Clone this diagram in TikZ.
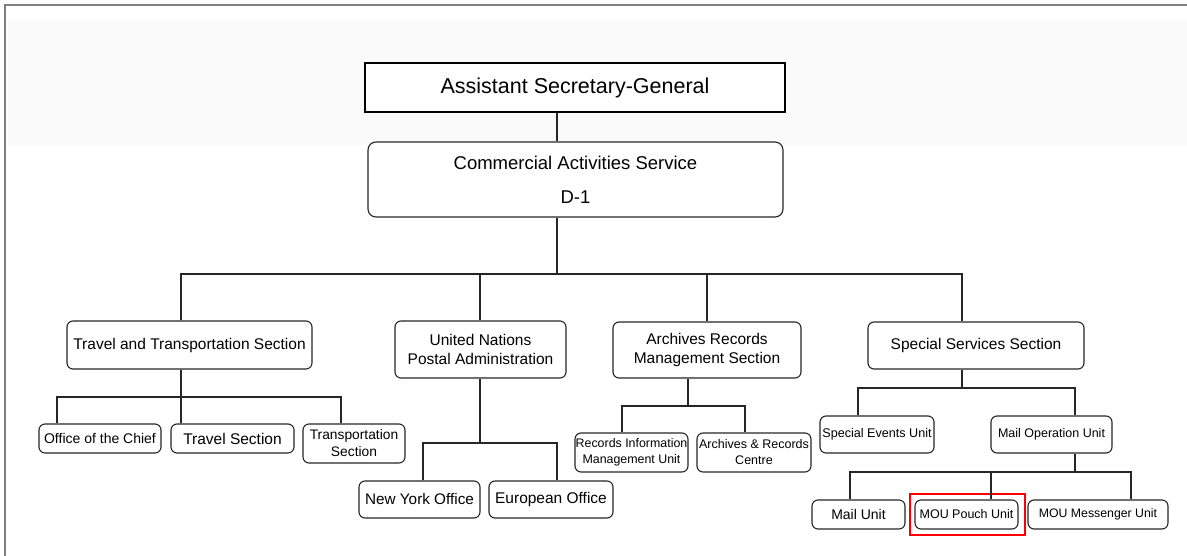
\documentclass[tikz,border=0pt]{standalone}
\usepackage{fontspec}
\setmainfont{Liberation Sans}
\definecolor{frame}{HTML}{7F7F7F}
\definecolor{ink}{HTML}{262626}
\definecolor{bgtint}{HTML}{FAFAFA}
\newcommand{\fs}[2]{\fontsize{#1}{#2}\selectfont}
\tikzset{
  box/.style={draw=ink, line width=1.1pt, rounded corners=6pt, inner sep=0pt, align=center, fill=white},
  topbox/.style={draw=black, line width=1.8pt, inner sep=0pt, align=center, fill=white},
  conn/.style={draw=ink, line width=1.1pt},
  hilite/.style={draw=red, line width=1.6pt, inner sep=0pt}
}
\begin{document}
\begin{tikzpicture}[x=1pt,y=-1pt]
\useasboundingbox (0,0) rectangle (1187,556);
\fill[white] (0,0) rectangle (1187,556);
\fill[bgtint] (8,20) rectangle (1187,145);
\draw[frame, line width=2pt] (5,556) -- (5,5) -- (1187,5);

% top nodes
\node[topbox, minimum width=420pt, minimum height=49pt, font=\fs{21.5}{26}] (asg) at (575,87.5) {Assistant Secretary-General};
\node[box, rounded corners=8pt, minimum width=415pt, minimum height=75pt, font=\fs{18.5}{34}] (cas) at (575.5,179.5) {Commercial Activities Service\\D-1};

% sections
\node[box, minimum width=245pt, minimum height=48pt, font=\fs{15.5}{19}] (tts) at (189.5,345) {Travel and Transportation Section};
\node[box, minimum width=171pt, minimum height=57pt, font=\fs{15.5}{19}] (unpa) at (480.5,349.5) {United Nations\\Postal Administration};
\node[box, minimum width=188pt, minimum height=56pt, font=\fs{15.5}{19}] (arms) at (707,350) {Archives Records\\Management Section};
\node[box, minimum width=216pt, minimum height=47pt, font=\fs{15.5}{19}] (sss) at (976,345.5) {Special Services Section};

% travel sub-units
\node[box, minimum width=122pt, minimum height=29pt, font=\fs{14}{17}] (ooc) at (100,438.5) {Office of the Chief};
\node[box, minimum width=123pt, minimum height=29pt, font=\fs{15.5}{19}] (ts) at (232.5,438.5) {Travel Section};
\node[box, minimum width=102pt, minimum height=39pt, font=\fs{13.8}{17}] (trs) at (354,443.5) {Transportation\\Section};

% postal
\node[box, minimum width=121pt, minimum height=37pt, font=\fs{15.3}{19}] (nyo) at (419.5,499.5) {New York Office};
\node[box, minimum width=124pt, minimum height=37pt, font=\fs{15.5}{19}] (eo) at (551,499.5) {European Office};

% archives
\node[box, minimum width=113pt, minimum height=39pt, font=\fs{12.4}{16}] (rimu) at (631.5,452.5) {Records Information\\Management Unit};
\node[box, minimum width=114pt, minimum height=39pt, font=\fs{12.5}{16}] (arc) at (754,452.5) {Archives \& Records\\Centre};

% special services
\node[box, minimum width=114pt, minimum height=37pt, font=\fs{12.6}{16}] (seu) at (877,434.5) {Special Events Unit};
\node[box, minimum width=121pt, minimum height=37pt, font=\fs{12.5}{16}] (mou) at (1051.5,434.5) {Mail Operation Unit};
\node[box, minimum width=93pt, minimum height=29pt, font=\fs{14}{17}] (mu) at (858.5,514.5) {Mail Unit};
\node[box, minimum width=103pt, minimum height=29pt, font=\fs{12.5}{16}] (mpu) at (966.5,514.5) {MOU Pouch Unit};
\node[box, minimum width=140pt, minimum height=29pt, font=\fs{12.3}{16}] (mmu) at (1098,514.5) {MOU Messenger Unit};
\node[hilite, minimum width=115pt, minimum height=41pt] (hl) at (967.5,514.5) {};

% junction coordinates
\coordinate (m0) at (557,274);
\coordinate (bL) at (181,274);
\coordinate (bU) at (480,274);
\coordinate (bA) at (707,274);
\coordinate (bR) at (962,274);

\coordinate (tL) at (57,397);
\coordinate (tM) at (181,397);
\coordinate (tR) at (341,397);

\coordinate (uM) at (480,443);
\coordinate (uL) at (423,443);
\coordinate (uR) at (557,443);

\coordinate (aM) at (688,406);
\coordinate (aL) at (622,406);
\coordinate (aR) at (745,406);

\coordinate (sM) at (962,388);
\coordinate (sL) at (858,388);
\coordinate (sR) at (1075,388);

\coordinate (oM) at (1075,472);
\coordinate (oL) at (850,472);
\coordinate (oC) at (991,472);
\coordinate (oR) at (1131,472);

% connectors
\draw[conn] (asg.south -| m0) -- (cas.north -| m0);
\draw[conn] (cas.south -| m0) -- (m0);
\draw[conn] (bL |- tts.north) -- (bL) -- (bR) -- (bR |- sss.north);
\draw[conn] (bU) -- (bU |- unpa.north);
\draw[conn] (bA) -- (bA |- arms.north);

\draw[conn] (tts.south -| tM) -- (ts.north -| tM);
\draw[conn] (tL |- ooc.north) -- (tL) -- (tR) -- (tR |- trs.north);

\draw[conn] (unpa.south -| uM) -- (uM);
\draw[conn] (uL |- nyo.north) -- (uL) -- (uR) -- (uR |- eo.north);

\draw[conn] (arms.south -| aM) -- (aM);
\draw[conn] (aL |- rimu.north) -- (aL) -- (aR) -- (aR |- arc.north);

\draw[conn] (sss.south -| sM) -- (sM);
\draw[conn] (sL |- seu.north) -- (sL) -- (sR) -- (sR |- mou.north);

\draw[conn] (mou.south -| oM) -- (oM);
\draw[conn] (oL |- mu.north) -- (oL) -- (oR) -- (oR |- mmu.north);
\draw[conn] (oC) -- (oC |- mpu.north);
\end{tikzpicture}
\end{document}
